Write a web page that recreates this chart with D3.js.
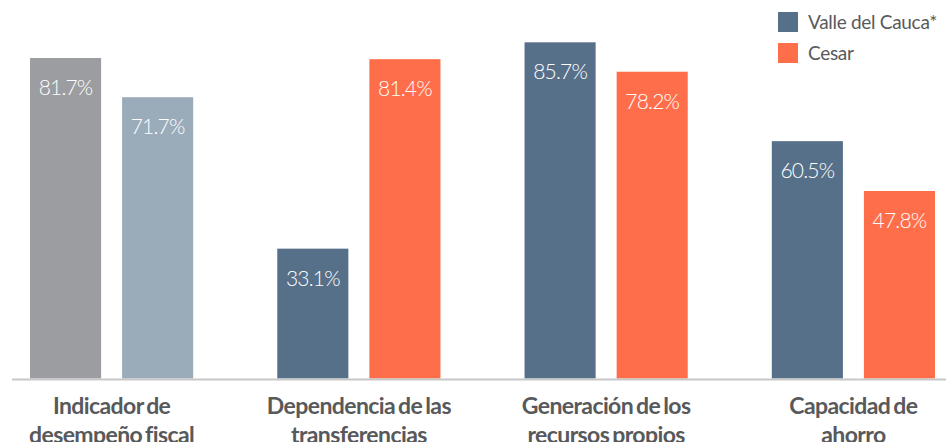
<!DOCTYPE html>
<html>

<head>
  <meta charset="UTF-8">
  <title>Indicadores fiscales</title>
  <style>
    body { margin: 0; background: #fff; }
    svg text { font-family: Lato, "Open Sans", sans-serif; }
  </style>
</head>

<body>
  <script src="https://cdn.jsdelivr.net/npm/d3@7"></script>
  <script>
    const width = 946,
      height = 442

    // datos
    const categories = [
      ['Indicador de', 'desempeño fiscal'],
      ['Dependencia de las', 'transferencias'],
      ['Generación de los', 'recursos propios'],
      ['Capacidad de', 'ahorro']
    ]
    const series = ['Valle del Cauca*', 'Cesar']
    const valle = [81.7, 33.1, 85.7, 60.5]
    const cesar = [71.7, 81.4, 78.2, 47.8]

    const colors = ['#577089', '#ff6e4b']
    const firstColors = ['#9c9da1', '#9aabba'] // el primer grupo va en gris

    const svg = d3.select('body')
      .append('svg')
      .attr('width', width)
      .attr('height', height)

    const baseline = 378.5

    const x0 = d3.scaleBand()
      .domain(d3.range(categories.length))
      .range([30, 935])
      .paddingInner(0.34)
      .paddingOuter(0)

    const x1 = d3.scaleBand()
      .domain(series)
      .range([0, x0.bandwidth()])
      .paddingInner(0.228)

    const y = d3.scaleLinear()
      .domain([0, 81.7])
      .range([baseline, 58])

    const rows = []
    categories.forEach((c, i) => {
      rows.push({ cat: i, s: series[0], v: valle[i], color: i === 0 ? firstColors[0] : colors[0] })
      rows.push({ cat: i, s: series[1], v: cesar[i], color: i === 0 ? firstColors[1] : colors[1] })
    })

    svg.selectAll('rect.bar')
      .data(rows).enter()
      .append('rect')
      .attr('class', 'bar')
      .attr('x', d => x0(d.cat) + x1(d.s))
      .attr('y', d => y(d.v))
      .attr('width', x1.bandwidth())
      .attr('height', d => y(0) - y(d.v))
      .attr('fill', d => d.color)

    svg.selectAll('text.val')
      .data(rows).enter()
      .append('text')
      .attr('class', 'val')
      .attr('x', d => x0(d.cat) + x1(d.s) + x1.bandwidth() / 2)
      .attr('y', d => y(d.v) + 37)
      .attr('text-anchor', 'middle')
      .attr('fill', '#fff')
      .attr('font-size', 21)
      .attr('font-weight', 300)
      .attr('letter-spacing', -0.8)
      .text(d => d.v.toFixed(1) + '%')

    // eje x
    svg.append('line')
      .attr('x1', 12)
      .attr('x2', width)
      .attr('y1', baseline + 1)
      .attr('y2', baseline + 1)
      .attr('stroke', '#c8c8c8')
      .attr('stroke-width', 2)

    const lab = svg.selectAll('text.cat')
      .data(categories).enter()
      .append('text')
      .attr('class', 'cat')
      .attr('text-anchor', 'middle')
      .attr('fill', '#58595b')
      .attr('font-size', 23)
      .attr('font-weight', 700)
      .attr('letter-spacing', -0.6)
      .attr('word-spacing', -2)

    lab.selectAll('tspan')
      .data((d, i) => d.map(t => ({ t, i })))
      .enter()
      .append('tspan')
      .attr('x', d => x0(d.i) + x0.bandwidth() / 2)
      .attr('y', (d, j) => 414 + j * 29)
      .text(d => d.t)

    // leyenda
    const leg = svg.selectAll('g.leg')
      .data(series).enter()
      .append('g')
      .attr('class', 'leg')
      .attr('transform', (d, i) => `translate(778, ${12 + i * 31})`)

    leg.append('rect')
      .attr('width', 20)
      .attr('height', 20)
      .attr('fill', (d, i) => colors[i])

    leg.append('text')
      .attr('x', 30)
      .attr('y', 17)
      .attr('fill', '#58595b')
      .attr('font-size', 19)
      .attr('letter-spacing', -0.3)
      .text(d => d)
  </script>
</body>

</html>
